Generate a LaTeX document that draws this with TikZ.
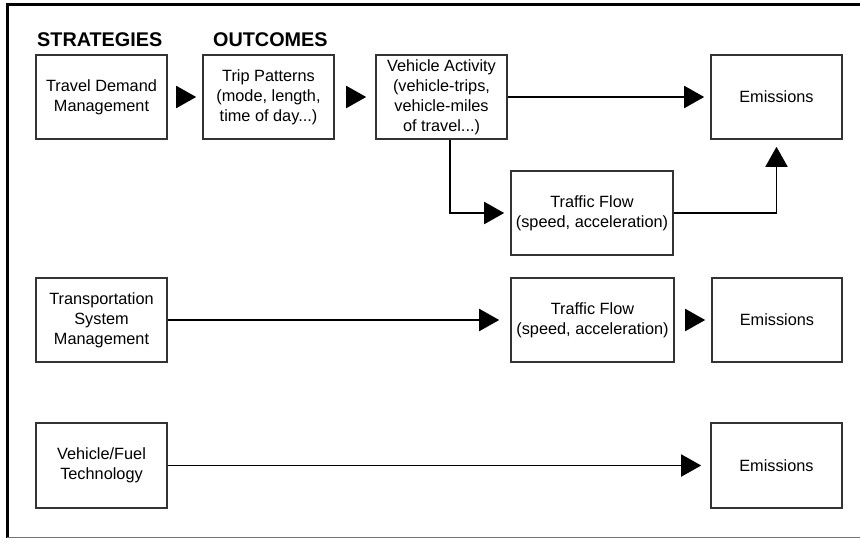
\documentclass[tikz,border=0pt]{standalone}
\usepackage{fontspec}
\setmainfont{Liberation Sans}
\usetikzlibrary{arrows.meta}
\begin{document}
\begin{tikzpicture}[x=1pt,y=-1pt,
  box/.style={draw=black!80, line width=1.6pt, align=center, inner sep=2pt,
    minimum height=84pt, font=\fontsize{16.3}{20}\selectfont},
  header/.style={anchor=west, inner sep=0pt, font=\fontsize{19.8}{22}\selectfont\bfseries},
  arr/.style={line width=1.9pt, -{Triangle[length=20pt,width=22pt]}}]
\useasboundingbox (0,0) rectangle (860,539);
% frame
\draw[line width=3pt] (5.5,4) -- (860,4);
\draw[line width=3pt] (7,4) -- (7,537.5);
\draw[line width=1.5pt, black!55] (7,537.5) -- (860,537.5);
% headers
\node[header] (hstrat) at (37,40) {STRATEGIES};
\node[header] (hout) at (213,40) {OUTCOMES};
% row 1
\node[box, minimum width=131pt] (tdm) at (101.5,97) {Travel Demand\\Management};
\node[box, minimum width=131pt] (trip) at (268.5,97) {Trip Patterns\\(mode, length,\\time of day...)};
\node[box, minimum width=131pt] (va) at (441.5,97) {Vehicle Activity\\(vehicle-trips,\\vehicle-miles\\of travel...)};
\node[box, minimum width=131pt] (em1) at (776.5,97) {Emissions};
\node[box, minimum width=162pt] (tf1) at (592,213) {Traffic Flow\\(speed, acceleration)};
% row 2
\node[box, minimum width=131pt] (tsm) at (101.5,320) {Transportation\\System\\Management};
\node[box, minimum width=163pt] (tf2) at (592.5,320) {Traffic Flow\\(speed, acceleration)};
\node[box, minimum width=130pt] (em2) at (777,320) {Emissions};
% row 3
\node[box, minimum width=131pt, minimum height=85pt] (vf) at (101.5,465.5) {Vehicle/Fuel\\Technology};
\node[box, minimum width=131pt, minimum height=85pt] (em3) at (776.5,465.5) {Emissions};
% connectors
\draw[arr, shorten <=10pt, shorten >=6pt] (tdm) -- (trip);
\draw[arr, shorten <=12pt, shorten >=9pt] (trip) -- (va);
\draw[arr, shorten >=6pt] (va) -- (em1);
\draw[arr, shorten >=6pt] (va.south -| 450,0) |- (tf1.west);
\draw[arr, shorten >=7pt] (tf1.east) -| (em1.south);
\draw[arr, shorten >=11pt] (tsm) -- (tf2);
\draw[arr, shorten <=11pt, shorten >=6pt] (tf2) -- (em2);
\draw[arr, shorten >=9pt] (vf) -- (em3);
\end{tikzpicture}
\end{document}
